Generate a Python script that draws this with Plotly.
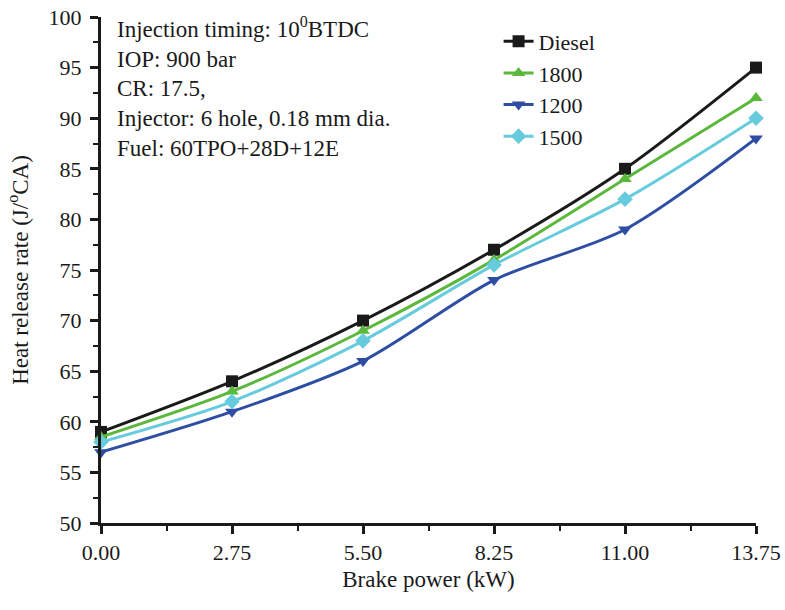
import plotly.graph_objects as go

x_vals = [0.00, 2.75, 5.50, 8.25, 11.00, 13.75]
diesel = [59, 64, 70, 77, 85, 95]
s1800 = [58.5, 63, 69, 76, 84, 92]
s1200 = [57, 61, 66, 74, 79, 88]
s1500 = [58, 62, 68, 75.5, 82, 90]
tick_vals = [0.00, 2.75, 5.50, 8.25, 11.00, 13.75]
tick_text = ["0.00", "2.75", "5.50", "8.25", "11.00", "13.75"]

series = [
    ("Diesel", diesel, "#1a1a1a", "square"),
    ("1800", s1800, "#5cb83c", "triangle-up"),
    ("1200", s1200, "#2d4ea3", "triangle-down"),
    ("1500", s1500, "#66cbdc", "diamond"),
]

fig = go.Figure()
for name, vals, col, sym in series:
    fig.add_trace(go.Scatter(
        x=x_vals, y=vals, name=name, mode="lines+markers",
        line=dict(color=col, width=3, shape="spline", smoothing=0.8),
        marker=dict(symbol=sym, size=12, color=col),
        cliponaxis=False,
    ))

font = "Liberation Serif, Times New Roman, serif"
fig.update_layout(
    width=785, height=610,
    margin=dict(l=101, r=29, t=17, b=87),
    plot_bgcolor="white", paper_bgcolor="white",
    font=dict(family=font, size=22, color="#1a1a1a"),
    showlegend=True,
    legend=dict(x=0.607, y=0.993, xanchor="left", yanchor="top",
                bgcolor="rgba(0,0,0,0)", font=dict(size=22),
                tracegroupgap=0),
    xaxis=dict(range=[0, 13.75], tickvals=tick_vals, ticktext=tick_text, automargin=False,
               showgrid=False, zeroline=False, showline=True, linecolor="#1a1a1a",
               linewidth=3, ticks="outside", ticklen=8, tickwidth=3, tickcolor="#1a1a1a",
               tickfont=dict(size=22),
               minor=dict(ticks="outside", ticklen=5, tickwidth=2, dtick=1.375, tickcolor="#1a1a1a"),
               title=dict(text="Brake power (kW)", standoff=7, font=dict(size=23))),
    yaxis=dict(range=[50, 100], dtick=5, showgrid=False, zeroline=False, showline=True,
               automargin=False,
               linecolor="#1a1a1a", linewidth=3, ticks="outside", ticklen=8, tickwidth=3,
               tickcolor="#1a1a1a", tickfont=dict(size=22), ticklabelstandoff=4,
               minor=dict(ticks="outside", ticklen=5, tickwidth=2, dtick=2.5, tickcolor="#1a1a1a"),
               title=dict(text="Heat release rate (J/<sup>o</sup>CA)", standoff=14, font=dict(size=23))),
)
fig.add_annotation(
    xref="paper", yref="paper", x=0.022, y=1.012, xanchor="left", yanchor="top",
    align="left", showarrow=False, font=dict(size=23, family=font),
    text="Injection timing: 10<sup>0</sup>BTDC<br>IOP: 900 bar<br>CR: 17.5,<br>Injector: 6 hole, 0.18 mm dia.<br>Fuel: 60TPO+28D+12E",
)
fig.write_html("out.html", config={"displayModeBar": False},
               post_script="document.body.style.margin='0px';")
